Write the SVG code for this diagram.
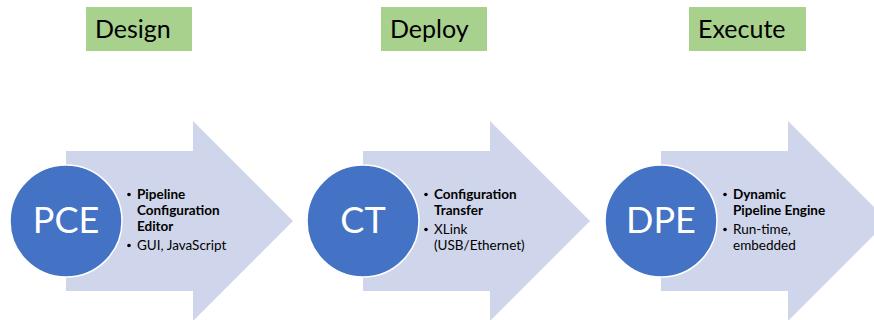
<svg xmlns="http://www.w3.org/2000/svg" width="874" height="320" viewBox="0 0 874 320">
<defs>
<style>
.hbox{fill:#A9D18E}
.htxt{font-family:Lato,"Open Sans",sans-serif;font-size:25px;fill:#000}
.arrow{fill:#CFD5EA}
.circ{fill:#4472C4;stroke:#fff;stroke-width:1.5}
.ctxt{font-family:Lato,"Open Sans",sans-serif;font-size:36px;fill:#fff;text-anchor:middle}
.b{font-family:Lato,"Open Sans",sans-serif;font-size:13.5px;fill:#000;font-weight:bold}
.r{font-family:Lato,"Open Sans",sans-serif;font-size:13.5px;fill:#000}
.dot{fill:#000}
</style>
<path id="arr" d="M0,-70 L127,-70 L127,-100 L227,0 L127,100 L127,70 L0,70 Z"/>
</defs>
<rect width="874" height="320" fill="#fff"/>
<g id="connectors"></g>
<g id="design">
<rect class="hbox" x="86" y="7" width="106" height="44"/>
<text class="htxt" x="95" y="38">Design</text>
</g>
<g id="deploy">
<rect class="hbox" x="381" y="7" width="106" height="44"/>
<text class="htxt" x="390" y="38">Deploy</text>
</g>
<g id="execute">
<rect class="hbox" x="689" y="7" width="117" height="44"/>
<text class="htxt" x="698" y="38">Execute</text>
</g>
<g id="pce">
<use href="#arr" class="arrow" x="66" y="221"/>
<circle class="circ" cx="66" cy="221" r="56"/>
<text class="ctxt" x="66" y="233">PCE</text>
<circle class="dot" cx="129" cy="194.5" r="1.8"/>
<text class="b" x="137" y="199">Pipeline</text>
<text class="b" x="137" y="215">Configuration</text>
<text class="b" x="137" y="231">Editor</text>
<circle class="dot" cx="129" cy="245.5" r="1.8"/>
<text class="r" x="137" y="250">GUI, JavaScript</text>
</g>
<g id="ct">
<use href="#arr" class="arrow" x="363" y="221"/>
<circle class="circ" cx="363" cy="221" r="56"/>
<text class="ctxt" x="363" y="233">CT</text>
<circle class="dot" cx="426" cy="194.5" r="1.8"/>
<text class="b" x="434" y="199">Configuration</text>
<text class="b" x="434" y="215">Transfer</text>
<circle class="dot" cx="426" cy="229.5" r="1.8"/>
<text class="r" x="434" y="234">XLink</text>
<text class="r" x="434" y="250">(USB/Ethernet)</text>
</g>
<g id="dpe">
<use href="#arr" class="arrow" x="661" y="221"/>
<circle class="circ" cx="661" cy="221" r="56"/>
<text class="ctxt" x="661" y="233">DPE</text>
<circle class="dot" cx="725" cy="194.5" r="1.8"/>
<text class="b" x="733" y="199">Dynamic</text>
<text class="b" x="733" y="215">Pipeline Engine</text>
<circle class="dot" cx="725" cy="229.5" r="1.8"/>
<text class="r" x="733" y="234">Run-time,</text>
<text class="r" x="733" y="250">embedded</text>
</g>
</svg>
